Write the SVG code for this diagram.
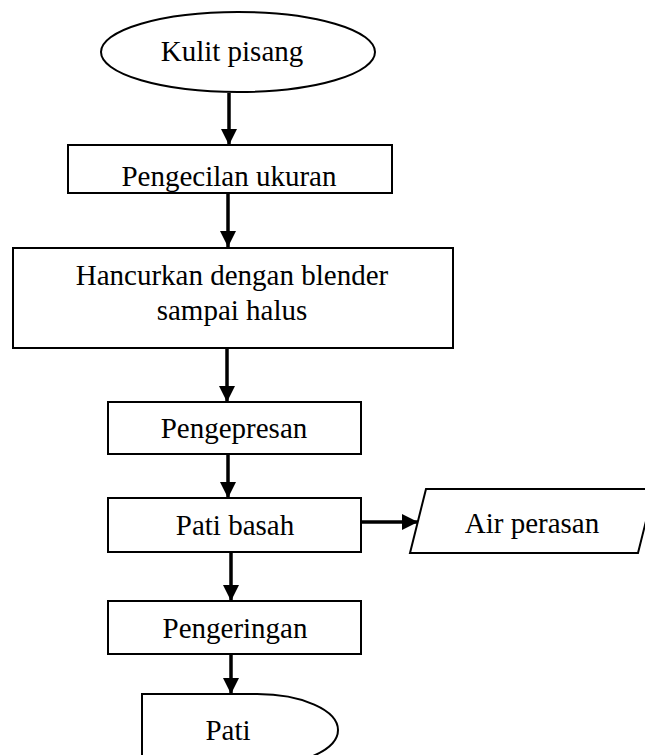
<svg xmlns="http://www.w3.org/2000/svg" width="645" height="755" viewBox="0 0 645 755">
<style>
.s{fill:#fff;stroke:#000;stroke-width:2}
.t{font-family:"Liberation Serif","Times New Roman",serif;font-size:29px;fill:#000;text-anchor:middle}
.c{stroke:#000;stroke-width:3.5;fill:none;marker-end:url(#ah)}
</style>
<defs>
<marker id="ah" markerUnits="userSpaceOnUse" markerWidth="16" markerHeight="16" refX="16" refY="8" orient="auto" viewBox="0 0 16 16">
<path d="M0,0 L16,8 L0,16 z" fill="#000"/>
</marker>
<clipPath id="clip1"><rect x="68" y="146" width="324" height="46"/></clipPath>
</defs>
<rect width="645" height="755" fill="#fff"/>
<g id="n-kulit">
<ellipse class="s" cx="238" cy="52" rx="137" ry="40"/>
<text class="t" x="232" y="61">Kulit pisang</text>
</g>
<g id="n-pengecilan">
<rect class="s" x="68" y="145" width="324" height="48"/>
<text class="t" x="229" y="186" clip-path="url(#clip1)">Pengecilan ukuran</text>
</g>
<g id="n-hancurkan">
<rect class="s" x="13" y="248" width="440" height="100"/>
<text class="t" x="232" y="285">Hancurkan dengan blender</text>
<text class="t" x="232" y="320">sampai halus</text>
</g>
<g id="n-pengepresan">
<rect class="s" x="108" y="402" width="253" height="52"/>
<text class="t" x="234" y="438">Pengepresan</text>
</g>
<g id="n-patibasah">
<rect class="s" x="108" y="498" width="253" height="54"/>
<text class="t" x="235" y="535">Pati basah</text>
</g>
<g id="n-air">
<path class="s" d="M426,489 L654,489 L638,553 L410,553 Z"/>
<text class="t" x="532" y="533">Air perasan</text>
</g>
<g id="n-pengeringan">
<rect class="s" x="108" y="601" width="253" height="53"/>
<text class="t" x="235" y="638">Pengeringan</text>
</g>
<g id="n-pati">
<path class="s" d="M142,760 L142,694 L257,694 A81,36 0 0 1 257,766 L142,766"/>
<text class="t" x="228" y="740">Pati</text>
</g>
<g id="connectors">
<line class="c" x1="229" y1="93" x2="229" y2="145"/>
<line class="c" x1="228" y1="193" x2="228" y2="247"/>
<line class="c" x1="227" y1="348" x2="227" y2="402"/>
<line class="c" x1="228" y1="454" x2="228" y2="498"/>
<line class="c" x1="231" y1="552" x2="231" y2="601"/>
<line class="c" x1="231" y1="654" x2="231" y2="694"/>
<line class="c" x1="361" y1="522" x2="418" y2="522"/>
</g>
</svg>
